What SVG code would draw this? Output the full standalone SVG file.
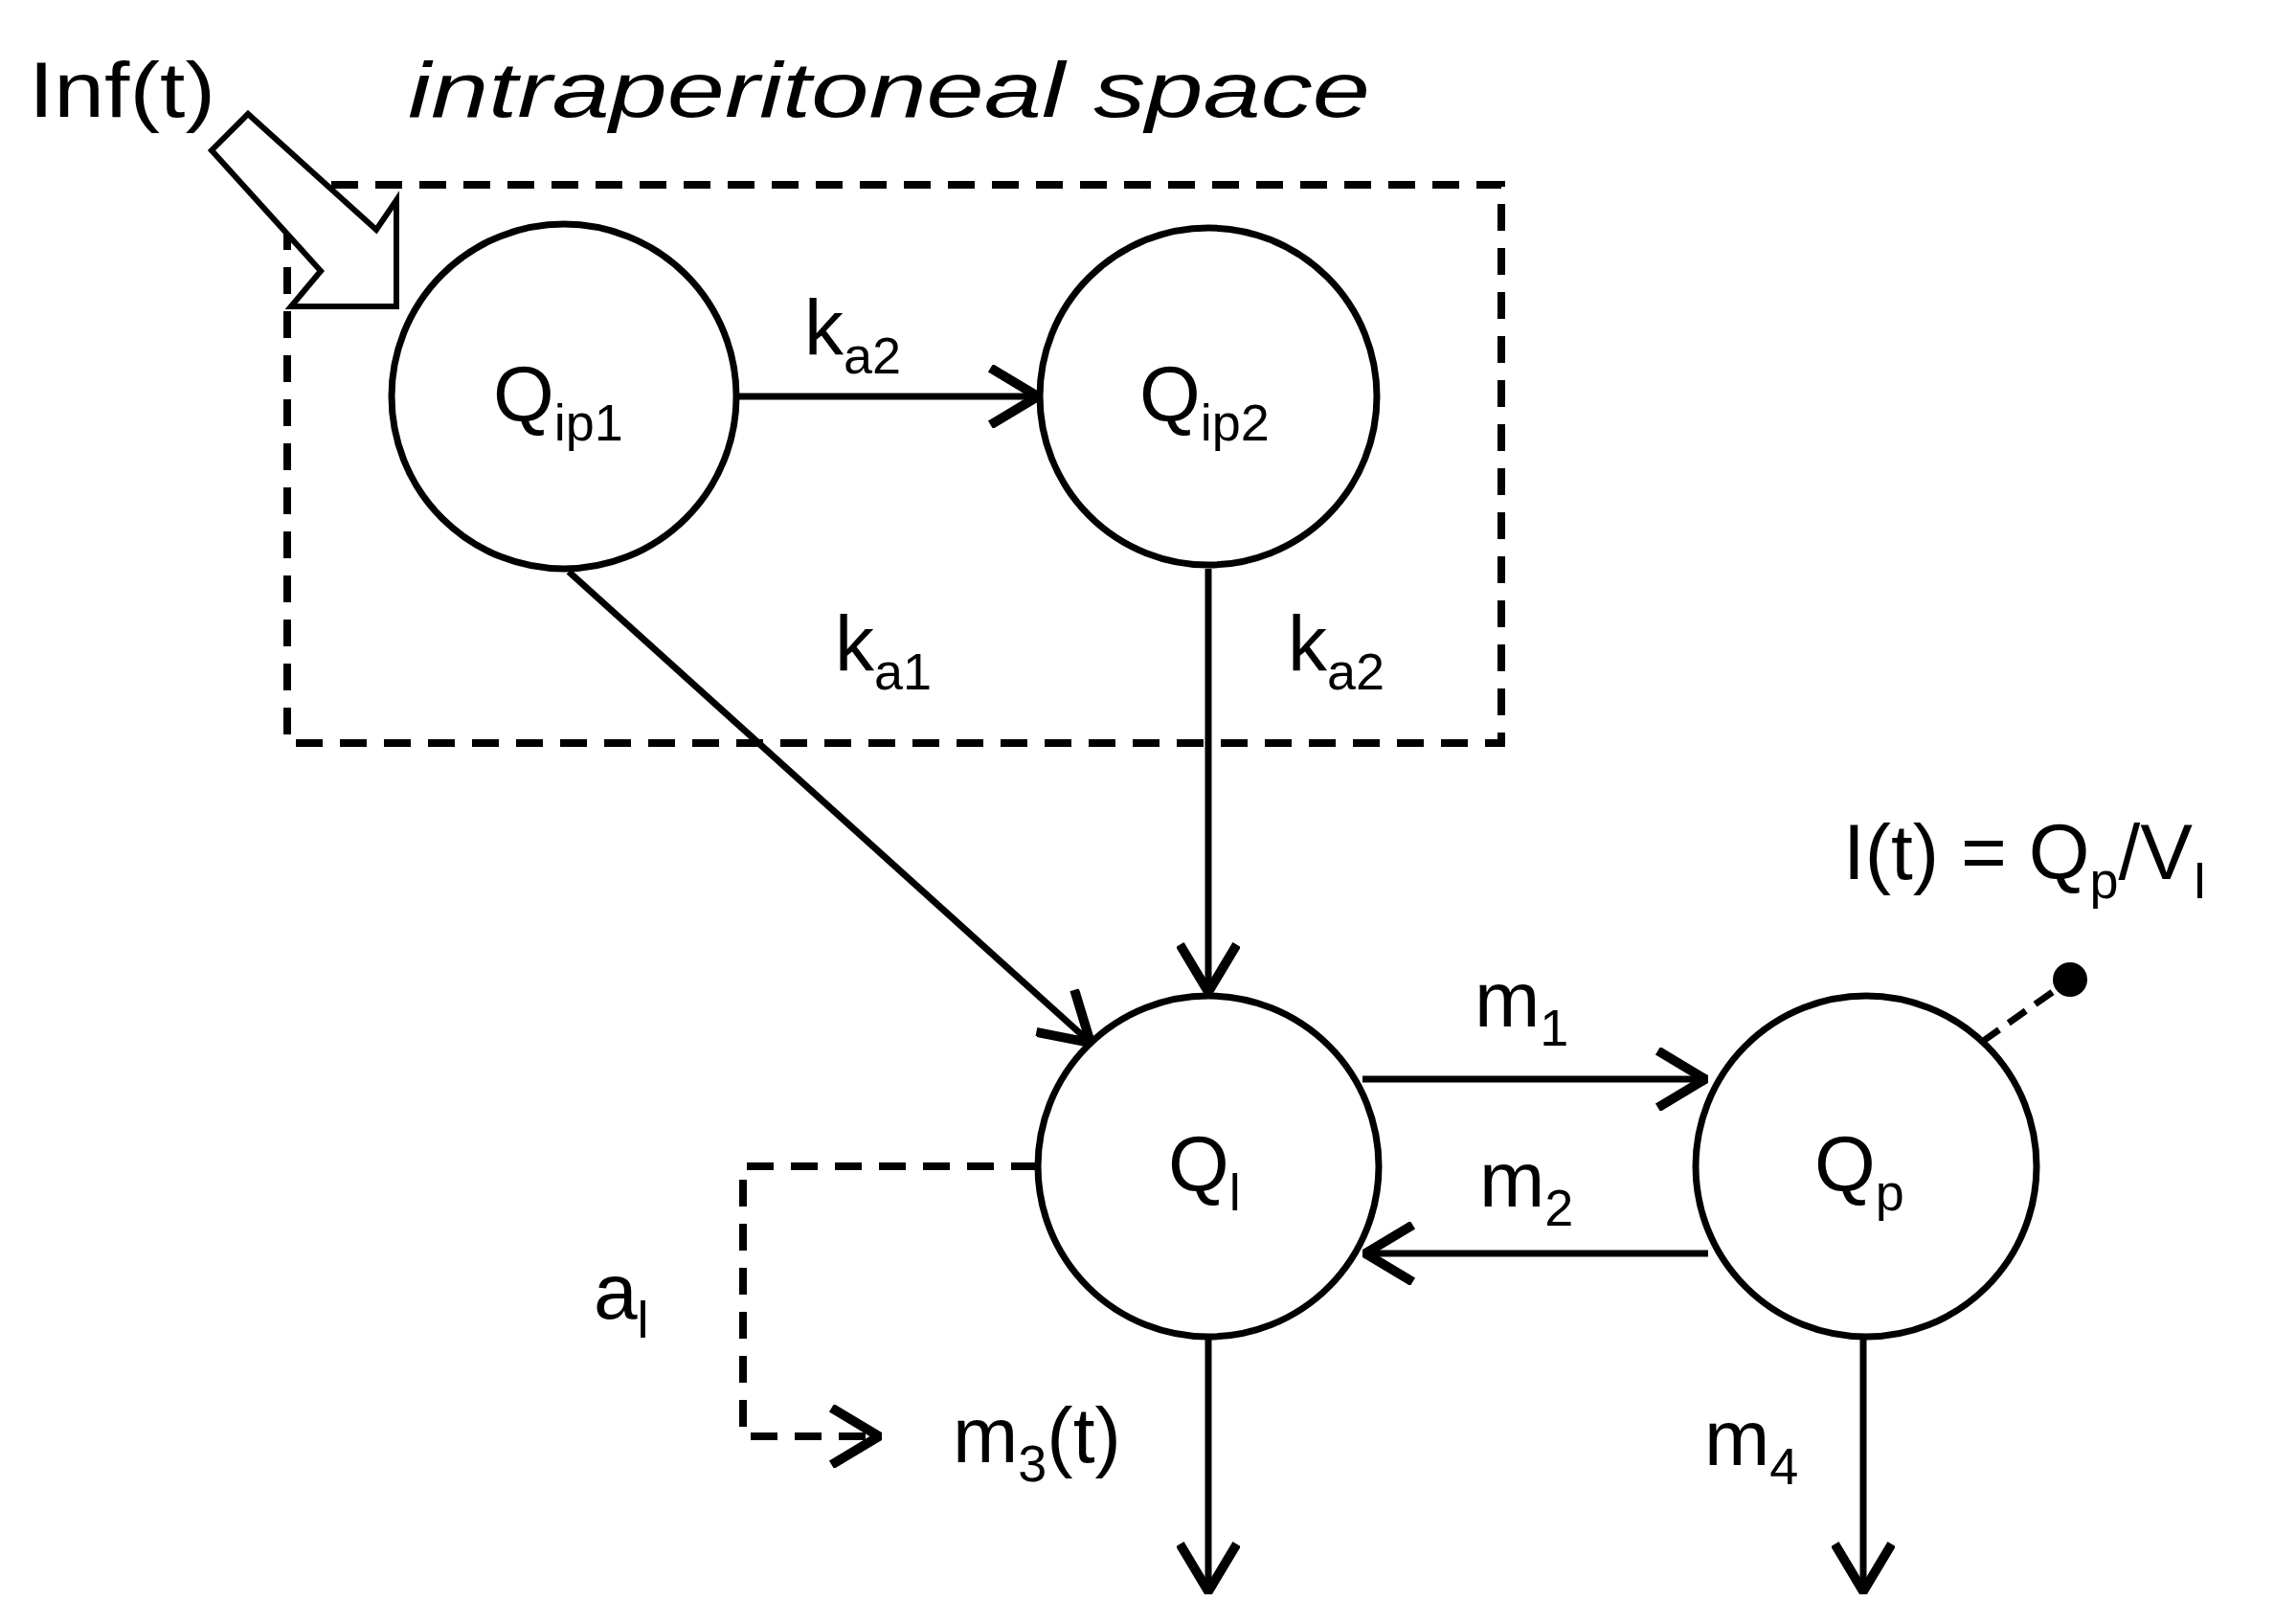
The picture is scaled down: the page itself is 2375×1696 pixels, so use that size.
<svg xmlns="http://www.w3.org/2000/svg" width="2375" height="1696" viewBox="0 0 2375 1696">
<style>
.n{fill:#fff;stroke:#000;stroke-width:7}
.l{stroke:#000;stroke-width:7;fill:none}
.d{stroke:#000;stroke-width:8;fill:none;stroke-dasharray:28 18}
text{font-family:"Liberation Sans",Arial,sans-serif;font-size:82px;fill:#000}
.s{font-size:54px}
</style>
<defs>
<marker id="b" viewBox="0 0 40 40" refX="38" refY="20" markerWidth="66" markerHeight="66" markerUnits="userSpaceOnUse" orient="auto">
<path d="M8,2 L38,20 L8,38" fill="none" stroke="#000" stroke-width="6"/>
</marker>
</defs>
<rect x="300" y="193" width="1268" height="583" class="d"/>
<text x="426" y="122" font-style="italic" font-size="96" textLength="1005" lengthAdjust="spacingAndGlyphs">intraperitoneal space</text>
<text x="30" y="122" font-size="92" textLength="195" lengthAdjust="spacingAndGlyphs">Inf(t)</text>
<polygon points="221,157 259,119 393,240 414,209 414,320 304,320 335,283" fill="#fff" stroke="#000" stroke-width="6"/>
<g id="connectors">
<line x1="770" y1="414" x2="1084" y2="414" class="l" marker-end="url(#b)"/>
<line x1="594" y1="597" x2="1139" y2="1089" class="l" marker-end="url(#b)"/>
<line x1="1262" y1="594" x2="1262" y2="1036" class="l" marker-end="url(#b)"/>
<line x1="1423" y1="1127" x2="1781" y2="1127" class="l" marker-end="url(#b)"/>
<line x1="1784" y1="1309" x2="1426" y2="1309" class="l" marker-end="url(#b)"/>
<line x1="1262" y1="1396" x2="1262" y2="1662" class="l" marker-end="url(#b)"/>
<line x1="1946" y1="1396" x2="1946" y2="1662" class="l" marker-end="url(#b)"/>
<polyline points="1084,1218 776,1218 776,1500 918,1500" class="d" stroke-dasharray="22 12" marker-end="url(#b)"/>
<line x1="2070" y1="1088" x2="2162" y2="1023" class="l" stroke-dasharray="22 12"/>
<circle cx="2162" cy="1023" r="18"/>
</g>
<g id="Qip1"><circle cx="589" cy="414" r="180" class="n"/><text x="515" y="440">Q<tspan class="s" dy="20">ip1</tspan></text></g>
<g id="Qip2"><circle cx="1262" cy="414" r="176" class="n"/><text x="1190" y="440">Q<tspan class="s" dy="20">ip2</tspan></text></g>
<g id="Ql"><circle cx="1262" cy="1218" r="178" class="n"/><text x="1220" y="1244">Q<tspan class="s" dy="20">l</tspan></text></g>
<g id="Qp"><circle cx="1949" cy="1218" r="178" class="n"/><text x="1895" y="1244">Q<tspan class="s" dy="20">p</tspan></text></g>
<text x="840" y="370">k<tspan class="s" dy="20">a2</tspan></text>
<text x="872" y="700">k<tspan class="s" dy="20">a1</tspan></text>
<text x="1345" y="700">k<tspan class="s" dy="20">a2</tspan></text>
<text x="1540" y="1072">m<tspan class="s" dy="20">1</tspan></text>
<text x="1545" y="1260">m<tspan class="s" dy="20">2</tspan></text>
<text x="995" y="1527">m<tspan class="s" dy="20">3</tspan><tspan dy="-20">(t)</tspan></text>
<text x="1780" y="1530">m<tspan class="s" dy="20">4</tspan></text>
<text x="620" y="1377">a<tspan class="s" dy="20">l</tspan></text>
<text x="1925" y="918">I(t) = Q<tspan class="s" dy="20">p</tspan><tspan dy="-20">/V</tspan><tspan class="s" dy="20">I</tspan></text>
</svg>
